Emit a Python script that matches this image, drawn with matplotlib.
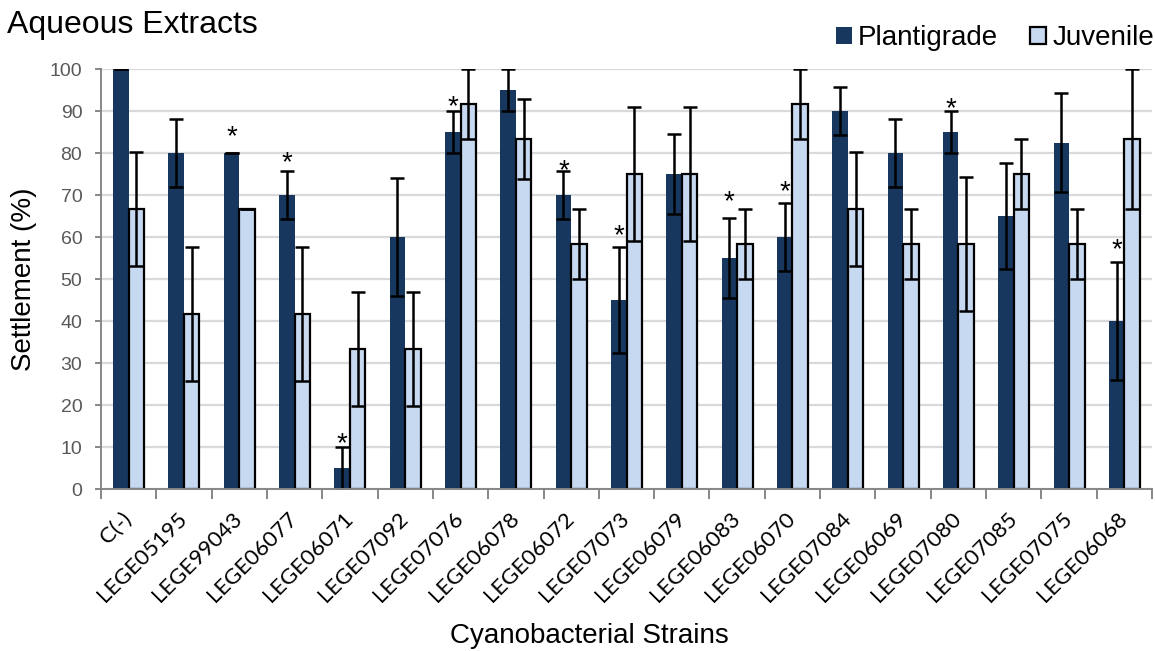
import matplotlib
matplotlib.use("Agg")
import matplotlib.pyplot as plt
import numpy as np

strains = ["C(-)", "LEGE05195", "LEGE99043", "LEGE06077", "LEGE06071", "LEGE07092",
           "LEGE07076", "LEGE06078", "LEGE06072", "LEGE07073", "LEGE06079", "LEGE06083",
           "LEGE06070", "LEGE07084", "LEGE06069", "LEGE07080", "LEGE07085", "LEGE07075",
           "LEGE06068"]
plantigrade = [100, 80, 80, 70, 5, 60, 85, 95, 70, 45, 75, 55, 60, 90, 80, 85, 65, 82.5, 40]
plantigrade_err = [0, 8.2, 0, 5.8, 5, 14.1, 5, 5, 5.8, 12.6, 9.6, 9.6, 8.2, 5.8, 8.2, 5, 12.6, 11.8, 14.1]
juvenile = [66.7, 41.7, 66.7, 41.7, 33.3, 33.3, 91.7, 83.3, 58.3, 75, 75, 58.3, 91.7, 66.7,
            58.3, 58.3, 75, 58.3, 83.3]
juvenile_err = [13.6, 15.9, 0, 15.9, 13.6, 13.6, 8.3, 9.6, 8.3, 16, 16, 8.3, 8.3, 13.6,
                8.3, 16, 8.3, 8.3, 16.7]
# significance markers (*) over Plantigrade bars, with the level at which each is drawn
significant = ["LEGE99043", "LEGE06077", "LEGE06071", "LEGE07076", "LEGE06072", "LEGE07073",
               "LEGE06083", "LEGE06070", "LEGE07080", "LEGE06068"]
star_level = [86, 79.8, 12.9, 93, 77.9, 62.4, 70.5, 72.9, 92.6, 59]

dark = "#17375E"
light = "#C6D9F1"
gray = "#868686"
FONT = "Liberation Sans"

fig = plt.figure(figsize=(11.55, 6.51), dpi=100)
ax = fig.add_axes([101 / 1155, (651 - 489) / 651, (1152 - 101) / 1155, (489 - 69) / 651])

n = len(strains)
x = np.arange(n)
w = 0.28
ekw = dict(elinewidth=1.8, capthick=1.8, ecolor="black")
ax.bar(x - w / 2, plantigrade, w, color=dark, edgecolor="none", zorder=2, label="Plantigrade",
       yerr=plantigrade_err, capsize=4.7, error_kw=ekw)
ax.bar(x + w / 2, juvenile, w, color=light, edgecolor="black", linewidth=1.6, zorder=2,
       label="Juvenile", yerr=juvenile_err, capsize=4.7, error_kw=ekw)

for s, lvl in zip(significant, star_level):
    i = strains.index(s)
    ax.annotate("*", (x[i] - w / 2, lvl), xytext=(0, -11.5), textcoords="offset points",
                ha="center", va="baseline", fontsize=20, family=FONT)

ax.set_xlim(-0.5, n - 0.5)
ax.set_ylim(0, 100)
ax.set_yticks(np.arange(0, 101, 10))
ax.yaxis.grid(True, color="#D9D9D9", linewidth=1.6, zorder=0)
ax.set_axisbelow(True)
for sp in ["top", "right"]:
    ax.spines[sp].set_visible(False)
for sp in ["left", "bottom"]:
    ax.spines[sp].set_color(gray)
    ax.spines[sp].set_linewidth(1.4)
ax.tick_params(axis="y", colors=gray, labelcolor="#595959", length=4.5, width=1.4,
               labelsize=14, pad=9)
for lab in ax.get_yticklabels():
    lab.set_family(FONT)

ax.set_xticks(x)
ax.set_xticklabels(strains, rotation=45, ha="right", va="center", rotation_mode="anchor",
                   fontsize=16, family="Lato")
ax.tick_params(axis="x", which="major", length=0, pad=19)
ax.set_xticks(np.arange(-0.5, n, 1.0), minor=True)
ax.tick_params(axis="x", which="minor", length=7, width=1.4, color=gray)

ax.set_ylabel("Settlement (%)", fontsize=20, family=FONT, va="center")
ax.yaxis.set_label_coords((24 - 101) / 1051, 0.5)
fig.text(589 / 1155, 1 - 636 / 651, "Cyanobacterial Strains", fontsize=20, family=FONT,
         ha="center", va="center")

fig.text(7 / 1155, 1 - 33 / 651, "Aqueous Extracts", fontsize=23, family=FONT,
         va="baseline", ha="left")

leg = fig.legend(loc="center right", bbox_to_anchor=(1154 / 1155, 1 - 38 / 651), ncol=2,
                 frameon=False, prop={"family": FONT, "size": 20},
                 handlelength=0.58, handleheight=0.58, handletextpad=0.22, columnspacing=1.15,
                 borderaxespad=0, borderpad=0)

fig.savefig("out.png", dpi=100)
